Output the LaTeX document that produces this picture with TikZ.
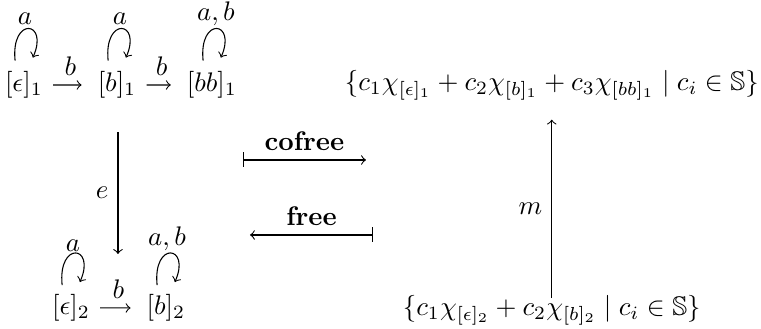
\documentclass[tikz,border=0pt]{standalone}
\usepackage{amsmath,amssymb}
\usepackage{tikz}
\usetikzlibrary{calc}

\begin{document}
\begin{tikzpicture}[scale=0.968,
        arrow/.style={->},
        trans/.style={->, shorten <=0.3pt, shorten >=2.5pt},
        functor/.style={thin},
        looplabel/.style={anchor=base},
    ]
        \useasboundingbox (0,0) rectangle (10.289,-4.435);

        % First automaton
        \node (e1)  at (0.324,-1.149) {$[\epsilon]_1$};
        \node (b1)  at (1.582,-1.149) {$[b]_1$};
        \node (bb1) at (2.866,-1.149) {$[bb]_1$};

        % Second automaton
        \node (e2) at (0.960,-4.164) {$[\epsilon]_2$};
        \node (b2) at (2.244,-4.164) {$[b]_2$};

        % Sets of weighted sums
        \node (top) at (7.46,-1.149)
              {$\{c_1\chi_{[\epsilon]_1} + c_2\chi_{[b]_1} + c_3\chi_{[bb]_1} \mid c_i \in \mathbb{S}\}$};
        \node (bot) at (7.46,-4.191)
              {$\{c_1\chi_{[\epsilon]_2} + c_2\chi_{[b]_2} \mid c_i \in \mathbb{S}\}$};

        % Loop labels
        \node[looplabel] (la1) at (0.338,-0.338) {$a$};
        \node[looplabel] (la2) at (1.622,-0.338) {$a$};
        \node[looplabel] (la3) at (2.920,-0.284) {$a, b$};
        \node[looplabel] (la4) at (0.987,-3.407) {$a$};
        \node[looplabel] (la5) at (2.258,-3.326) {$a, b$};

        % Loops
        \draw[arrow] ([xshift=-0.12cm,yshift=0.02cm]e1.north)
              .. controls +(-0.06,0.6) and +(0.22,0.5) .. ([xshift=0.12cm,yshift=0.06cm]e1.north);
        \draw[arrow] ([xshift=-0.12cm,yshift=0.02cm]b1.north)
              .. controls +(-0.06,0.6) and +(0.22,0.5) .. ([xshift=0.12cm,yshift=0.06cm]b1.north);
        \draw[arrow] ([xshift=-0.12cm,yshift=0.02cm]bb1.north)
              .. controls +(-0.06,0.6) and +(0.22,0.5) .. ([xshift=0.12cm,yshift=0.06cm]bb1.north);
        \draw[arrow] ([xshift=-0.12cm,yshift=0cm]e2.north)
              .. controls +(-0.06,0.6) and +(0.22,0.5) .. ([xshift=0.12cm,yshift=0.04cm]e2.north);
        \draw[arrow] ([xshift=-0.12cm,yshift=0cm]b2.north)
              .. controls +(-0.06,0.6) and +(0.22,0.5) .. ([xshift=0.12cm,yshift=0.04cm]b2.north);

        % Transitions
        \draw[trans] (e1) -- node[above]{$b$} (b1);
        \draw[trans] (b1) -- node[above]{$b$} (bb1);
        \draw[trans] (e2) -- node[above]{$b$} (b2);

        % Morphism e
        \coordinate (etop) at (1.595,-1.785);
        \coordinate (ebot) at (1.595,-3.434);
        \draw[arrow] (etop) -- node[left]{$e$} (ebot);

        % Functors
        \coordinate (cofL) at (3.285,-2.163);
        \coordinate (cofR) at (4.948,-2.163);
        \draw[functor, |->] (cofL) -- node[above]{\textbf{cofree}} (cofR);
        \coordinate (frR) at (5.043,-3.177);
        \coordinate (frL) at (3.380,-3.177);
        \draw[functor, |->] (frR) -- node[above]{\textbf{free}} (frL);

        % Morphism m
        \draw[arrow] ([yshift=-0.17cm]bot.north) -- node[left]{$m$} ([yshift=-0.14cm]top.south);
    \end{tikzpicture}
\end{document}
